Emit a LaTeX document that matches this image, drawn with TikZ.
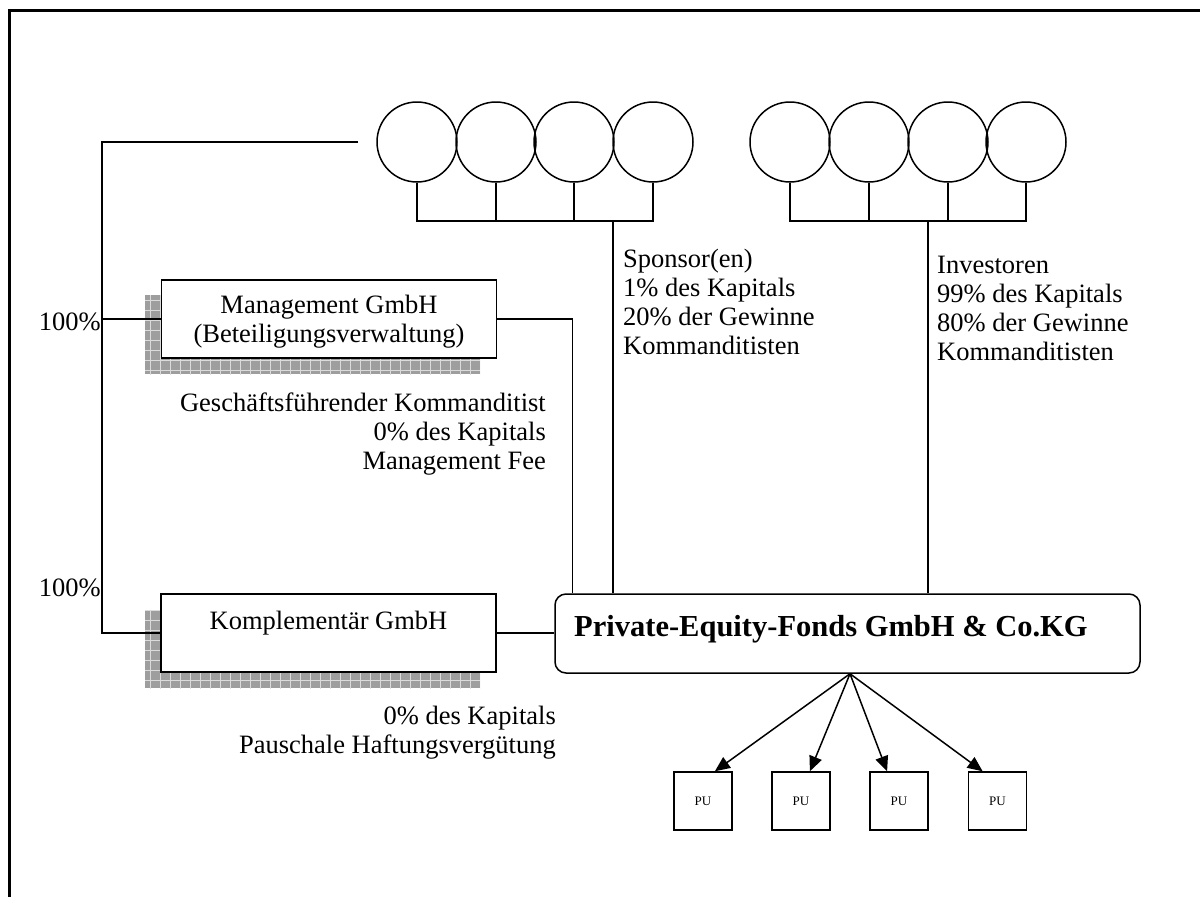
\documentclass[tikz,border=0pt]{standalone}
\usepackage{fontspec}
\setmainfont{Liberation Serif}
\usetikzlibrary{arrows.meta,calc}
\begin{document}
\begin{tikzpicture}[x=1pt,y=-1pt,
  ln/.style={line width=1.5pt},
  txt/.style={font=\fontsize{26.5}{29}\selectfont, inner sep=0pt},
  boxnode/.style={draw,line width=1.5pt,fill=white,minimum width=335pt,minimum height=78pt,inner sep=0pt},
  ring/.style={draw,circle,line width=1.5pt,minimum size=80pt,inner sep=0pt},
  pubox/.style={draw,line width=1.5pt,minimum width=58pt,minimum height=58pt,inner sep=0pt,font=\fontsize{13}{15}\selectfont},
  arr/.style={line width=1.5pt,-{Triangle[length=15pt,width=13pt]}},
  shadowfill/.style={fill=black!38},
  shadowgrid/.style={draw=black!14,line width=0.9pt}
]
\useasboundingbox (0,0) rectangle (1200,897);
% frame
\draw[line width=3pt] (1200,10) -- (9,10) -- (9,897);

% shadows
\fill[shadowfill] (145,295) rectangle (480,374);
\begin{scope}
\clip (145,295) rectangle (480,374);
\draw[shadowgrid,step=10pt] (140,290) grid (490,380);
\end{scope}
\fill[shadowfill] (145,610) rectangle (480,688);
\begin{scope}
\clip (145,610) rectangle (480,688);
\draw[shadowgrid,step=10pt] (140,600) grid (490,690);
\end{scope}

% boxes
\node[boxnode] (mgmt) at (329,319) {};
\node[boxnode] (komp) at (328.5,633) {};
\node[draw,line width=1.5pt,rounded corners=11pt,minimum width=585pt,minimum height=79pt,inner sep=0pt] (fonds) at (847.5,633.5) {};

% circles
\foreach \i/\x in {1/417,2/496,3/574,4/653}{\node[ring] (lc\i) at (\x,142) {};}
\foreach \i/\x in {1/790,2/869,3/948,4/1026}{\node[ring] (rc\i) at (\x,142) {};}

% circle bars
\draw[ln] (lc1.south) -- ++(0,38) -| (lc4.south);
\draw[ln] (lc2.south) -- ++(0,38);
\draw[ln] (lc3.south) -- ++(0,38);
\draw[ln] (rc1.south) -- ++(0,38) -| (rc4.south);
\draw[ln] (rc2.south) -- ++(0,38);
\draw[ln] (rc3.south) -- ++(0,38);

\coordinate (sp) at (613,220);
\coordinate (iv) at (928,220);
\draw[ln] (sp) -- (sp |- fonds.north);
\draw[ln] (iv) -- (iv |- fonds.north);

% left bracket
\coordinate (lt) at (358,142);
\coordinate (corner) at (102,142);
\draw[ln] (lt) -- (corner) |- (komp.west);
\draw[ln] (corner |- mgmt.west) -- (mgmt.west);
\draw[ln] (mgmt.east) -| ($(fonds.north west)+(18,0)$);
\draw[ln] (komp.east) -- (komp.east -| fonds.west);

% PU boxes
\node[pubox] (pu1) at (703,801) {PU};
\node[pubox] (pu2) at (801,801) {PU};
\node[pubox] (pu3) at (899,801) {PU};
\node[pubox] (pu4) at (997.5,801) {PU};
\coordinate (src) at ($(fonds.south)+(2.5,0)$);
\draw[arr] (src) -- ($(pu1.north west)!0.7!(pu1.north east)$);
\draw[arr] (src) -- ($(pu2.north west)!0.65!(pu2.north east)$);
\draw[arr] (src) -- ($(pu3.north west)!0.3!(pu3.north east)$);
\draw[arr] (src) -- ($(pu4.north west)!0.25!(pu4.north east)$);

% texts
\node[txt,anchor=base] (m1) at (329,313) {Management GmbH};
\node[txt,anchor=base] (m2) at (329,342) {(Beteiligungsverwaltung)};
\node[txt,anchor=base] (k1) at (328.5,629) {Komplementär GmbH};
\node[inner sep=0pt,anchor=base west,font=\fontsize{30.5}{34}\selectfont\bfseries] (title) at (574,636) {Private-Equity-Fonds GmbH \& Co.KG};

\node[txt,anchor=base east] (p1) at (101,330) {100\%};
\node[txt,anchor=base east] (p2) at (101,596) {100\%};

\node[txt,anchor=base east] (g1) at (546,411) {Geschäftsführender Kommanditist};
\node[txt,anchor=base east] (g2) at (546,440) {0\% des Kapitals};
\node[txt,anchor=base east] (g3) at (546,469) {Management Fee};

\node[txt,anchor=base east] (h1) at (556,724) {0\% des Kapitals};
\node[txt,anchor=base east] (h2) at (556,753) {Pauschale Haftungsvergütung};

\node[txt,anchor=base west] (s1) at (623,267) {Sponsor(en)};
\node[txt,anchor=base west] (s2) at (623,296) {1\% des Kapitals};
\node[txt,anchor=base west] (s3) at (623,325) {20\% der Gewinne};
\node[txt,anchor=base west] (s4) at (623,354) {Kommanditisten};

\node[txt,anchor=base west] (i1) at (937,273) {Investoren};
\node[txt,anchor=base west] (i2) at (937,302) {99\% des Kapitals};
\node[txt,anchor=base west] (i3) at (937,331) {80\% der Gewinne};
\node[txt,anchor=base west] (i4) at (937,360) {Kommanditisten};
\end{tikzpicture}
\end{document}
